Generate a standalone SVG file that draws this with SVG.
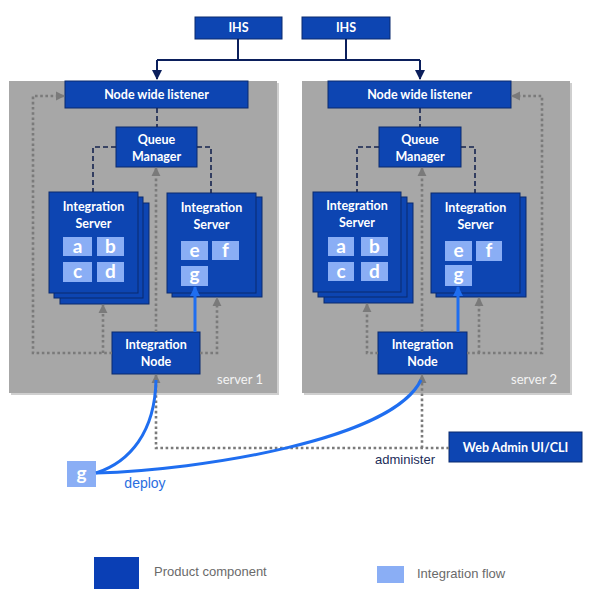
<svg xmlns="http://www.w3.org/2000/svg" width="591" height="600" viewBox="0 0 591 600">
<defs>
<marker id="ah-navy" viewBox="0 0 10 10" refX="9" refY="5" markerWidth="5" markerHeight="5" orient="auto" markerUnits="strokeWidth"><path d="M0,0 L10,5 L0,10 z" fill="#0b1f5c"/></marker>
<marker id="ah-gray" viewBox="0 0 10 10" refX="9" refY="5" markerWidth="3.6" markerHeight="3.6" orient="auto" markerUnits="strokeWidth"><path d="M0,0 L10,5 L0,10 z" fill="#7a7a7a"/></marker>
<marker id="ah-blue" viewBox="0 0 10 10" refX="9" refY="5" markerWidth="3.4" markerHeight="3.4" orient="auto" markerUnits="strokeWidth"><path d="M0,0 L10,5 L0,10 z" fill="#1f6ef0"/></marker>
</defs>
<style>
.comp{fill:#0d45b2;stroke:#0a2a6e;stroke-width:1}
.flow{fill:#8aaef5}
.srv{fill:#a7a7a7}
.srvsh{fill:#cfcfcf}
.t{font-family:Lato,"Liberation Sans",sans-serif;font-weight:bold;font-size:12.5px;fill:#ffffff;text-anchor:middle}
.tile{font-family:Lato,"Liberation Sans",sans-serif;font-weight:bold;font-size:19px;fill:#ffffff;text-anchor:middle}
.lbl{font-family:Lato,"Liberation Sans",sans-serif;font-size:13px;fill:#f4f4f4;text-anchor:end}
.navy{fill:none;stroke:#0b1f5c;stroke-width:2}
.dash{fill:none;stroke:#16244f;stroke-width:1.6;stroke-dasharray:5 3}
.dot{fill:none;stroke:#7a7a7a;stroke-width:2.6;stroke-dasharray:2.6 2.6}
.blue{fill:none;stroke:#1f6ef0;stroke-width:3}
.leg{font-family:"Liberation Sans",Arial,sans-serif;font-size:13px;fill:#6a6a6a}
</style>

<g id="server1">
<rect class="srvsh" x="11" y="83" width="268" height="312"/>
<rect class="srv" x="9" y="81" width="268" height="312"/>
<text class="lbl" x="263" y="384">server 1</text>
</g>
<g id="server2">
<rect class="srvsh" x="304" y="83" width="268" height="312"/>
<rect class="srv" x="302" y="81" width="268" height="312"/>
<text class="lbl" x="557" y="384">server 2</text>
</g>

<g id="ihs1"><rect class="comp" x="195" y="17" width="87" height="22"/><text class="t" x="238.5" y="32">IHS</text></g>
<g id="ihs2"><rect class="comp" x="302" y="17" width="88" height="22"/><text class="t" x="346" y="32">IHS</text></g>

<g id="listener1"><rect class="comp" x="65" y="81" width="183" height="27"/><text class="t" x="156.5" y="99">Node wide listener</text></g>
<g id="qm1"><rect class="comp" x="116" y="127" width="81" height="40"/><text class="t" x="156.5" y="144">Queue</text><text class="t" x="156.5" y="161">Manager</text></g>
<g id="is1a">
<rect class="comp" x="60" y="203" width="89" height="101"/>
<rect class="comp" x="54" y="197" width="89" height="101"/>
<rect class="comp" x="49" y="192" width="89" height="101"/>
<text class="t" x="93.5" y="211">Integration</text><text class="t" x="93.5" y="228">Server</text>
<rect class="flow" x="63" y="237" width="29" height="19"/><text class="tile" x="77.5" y="253">a</text>
<rect class="flow" x="97" y="237" width="27" height="19"/><text class="tile" x="110.5" y="253">b</text>
<rect class="flow" x="63" y="262" width="29" height="20"/><text class="tile" x="77.5" y="278">c</text>
<rect class="flow" x="97" y="262" width="27" height="20"/><text class="tile" x="110.5" y="278">d</text>
</g>
<g id="is1b">
<rect class="comp" x="172" y="197" width="90" height="100"/>
<rect class="comp" x="167" y="193" width="89" height="100"/>
<text class="t" x="211.5" y="212">Integration</text><text class="t" x="211.5" y="229">Server</text>
<rect class="flow" x="181" y="241" width="27" height="19"/><text class="tile" x="194.5" y="257">e</text>
<rect class="flow" x="212" y="241" width="27" height="19"/><text class="tile" x="225.5" y="257">f</text>
<rect class="flow" x="181" y="266" width="27" height="20"/><text class="tile" x="194.5" y="281">g</text>
</g>
<g id="node1"><rect class="comp" x="112" y="332" width="88" height="42"/><text class="t" x="156" y="349">Integration</text><text class="t" x="156" y="366">Node</text></g>

<g id="listener2"><rect class="comp" x="328" y="81" width="183" height="27"/><text class="t" x="419.5" y="99">Node wide listener</text></g>
<g id="qm2"><rect class="comp" x="379" y="127" width="82" height="40"/><text class="t" x="420" y="144">Queue</text><text class="t" x="420" y="161">Manager</text></g>
<g id="is2a">
<rect class="comp" x="324" y="203" width="89" height="100"/>
<rect class="comp" x="318" y="197" width="89" height="100"/>
<rect class="comp" x="313" y="192" width="88" height="100"/>
<text class="t" x="357" y="210">Integration</text><text class="t" x="357" y="227">Server</text>
<rect class="flow" x="328" y="237" width="26" height="19"/><text class="tile" x="341" y="253">a</text>
<rect class="flow" x="361" y="237" width="27" height="19"/><text class="tile" x="374.5" y="253">b</text>
<rect class="flow" x="328" y="262" width="26" height="19"/><text class="tile" x="341" y="278">c</text>
<rect class="flow" x="361" y="262" width="27" height="19"/><text class="tile" x="374.5" y="278">d</text>
</g>
<g id="is2b">
<rect class="comp" x="436" y="197" width="90" height="100"/>
<rect class="comp" x="431" y="193" width="89" height="100"/>
<text class="t" x="475.5" y="212">Integration</text><text class="t" x="475.5" y="229">Server</text>
<rect class="flow" x="445" y="241" width="27" height="20"/><text class="tile" x="458.5" y="257">e</text>
<rect class="flow" x="476" y="241" width="26" height="20"/><text class="tile" x="489" y="257">f</text>
<rect class="flow" x="445" y="265" width="27" height="21"/><text class="tile" x="458.5" y="281">g</text>
</g>
<g id="node2"><rect class="comp" x="378" y="332" width="89" height="42"/><text class="t" x="422.5" y="349">Integration</text><text class="t" x="422.5" y="366">Node</text></g>

<g id="webadmin"><rect class="comp" x="449" y="432" width="133" height="30"/><text class="t" x="515.5" y="452">Web Admin UI/CLI</text></g>
<g id="gflow"><rect class="flow" x="67" y="461" width="29" height="26"/><text class="tile" x="81.5" y="480">g</text></g>

<g id="connectors">
<path class="navy" d="M238,39 V60 M346,39 V60 M157,60 H420"/>
<path class="navy" d="M157,60 V79" marker-end="url(#ah-navy)"/>
<path class="navy" d="M420,60 V79" marker-end="url(#ah-navy)"/>
<path class="dash" d="M157,108 V127 M116,147 H93 V192 M197,147 H211 V193"/>
<path class="dash" d="M420,108 V127 M379,147 H357 V192 M461,147 H475 V193"/>
<path class="dot" d="M112,353 H33 V96 H64" marker-end="url(#ah-gray)"/>
<path class="dot" d="M103,353 V305" marker-end="url(#ah-gray)"/>
<path class="dot" d="M156,332 V168" marker-end="url(#ah-gray)"/>
<path class="dot" d="M200,353 H217 V298" marker-end="url(#ah-gray)"/>
<path class="dot" d="M467,353 H542 V96 H512" marker-end="url(#ah-gray)"/>
<path class="dot" d="M378,353 H367 V304" marker-end="url(#ah-gray)"/>
<path class="dot" d="M422,332 V168" marker-end="url(#ah-gray)"/>
<path class="dot" d="M479,353 V298" marker-end="url(#ah-gray)"/>
<path class="dot" d="M449,448 H156 V375" marker-end="url(#ah-gray)"/>
<path class="dot" d="M422,448 V375" marker-end="url(#ah-gray)"/>
<path class="blue" d="M195,332 V287" marker-end="url(#ah-blue)"/>
<path class="blue" d="M458,332 V287" marker-end="url(#ah-blue)"/>
<path class="blue" d="M96,473 C130,462 155,432 156,380"/>
<path class="blue" d="M96,473 C200,470 392,440 421,380"/>
<text x="405" y="464" font-family="'Liberation Sans',Arial,sans-serif" font-size="13" fill="#1c2d5a" text-anchor="middle">administer</text>
<text x="145" y="488" font-family="'Liberation Sans',Arial,sans-serif" font-size="14" fill="#2a6ee0" text-anchor="middle">deploy</text>
</g>

<g id="legend">
<rect x="94" y="557" width="45" height="32" fill="#0a3fb5"/>
<text class="leg" x="154" y="576">Product component</text>
<rect class="flow" x="377" y="566" width="27" height="17"/>
<text class="leg" x="417" y="578">Integration flow</text>
</g>
</svg>
